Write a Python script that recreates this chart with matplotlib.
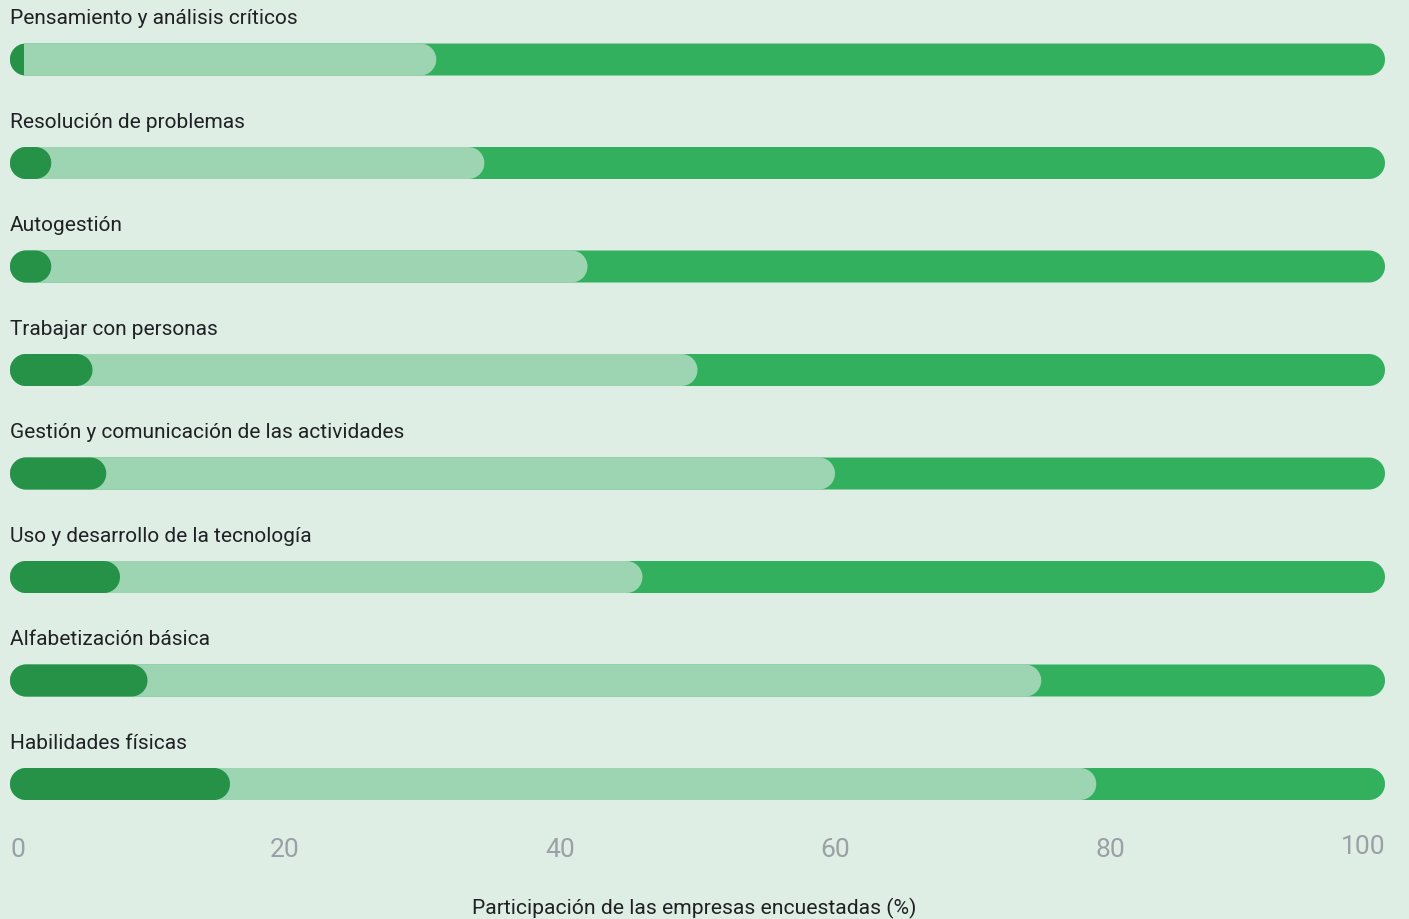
import numpy as np
import matplotlib
matplotlib.use("Agg")
import matplotlib.pyplot as plt
from matplotlib.patches import Polygon, Rectangle

# data: share of surveyed companies (%), three groups per skill
skills = ["Pensamiento y análisis críticos",
          "Resolución de problemas",
          "Autogestión",
          "Trabajar con personas",
          "Gestión y comunicación de las actividades",
          "Uso y desarrollo de la tecnología",
          "Alfabetización básica",
          "Habilidades físicas"]
dark = [1, 3, 3, 6, 7, 8, 10, 16]
light = [30, 31.5, 39, 44, 53, 38, 65, 63]
rest = [100 - d - l for d, l in zip(dark, light)]
xticks = [0, 20, 40, 60, 80, 100]
xlabel = "Participación de las empresas encuestadas (%)"

BG = "#deeee4"
C_DARK = "#259248"
C_LIGHT = "#9dd4b1"
C_MID = "#32b05e"
TXT = "#202124"
GREY = "#9aa0a6"

plt.rcParams['font.family'] = ['Roboto', 'DejaVu Sans']

W, H = 1409, 920
fig = plt.figure(figsize=(W / 100, H / 100), dpi=100, facecolor=BG)
x0, x1 = 10, 1385
ax = fig.add_axes([x0 / W, 0, (x1 - x0) / W, 1])
ax.set_facecolor(BG)
rowpx = 103.5
top = 60.5
ax.set_xlim(0, 100)
ax.set_ylim((H - top) / rowpx, -top / rowpx)

px_x = 100 / (x1 - x0)      # data x per pixel
px_y = 1 / rowpx            # data y per pixel
ry = 16 * px_y              # half bar height
rx = 16 * px_x              # cap radius in x units


def pill(x_end, y, color, z):
    w = max(x_end, 2 * rx)
    a = np.linspace(np.pi / 2, 3 * np.pi / 2, 40)
    left = np.column_stack([rx + rx * np.cos(a), y - ry * np.sin(a)])
    a2 = np.linspace(-np.pi / 2, np.pi / 2, 40)
    right = np.column_stack([w - rx + rx * np.cos(a2), y - ry * np.sin(a2)])
    p = Polygon(np.vstack([left, right]), closed=True, fc=color, ec="none",
                zorder=z, antialiased=True)
    ax.add_patch(p)
    if x_end < 2 * rx:
        r = Rectangle((0, y - ry), x_end, 2 * ry, transform=ax.transData)
        p.set_clip_path(r)
    return p


for i, name in enumerate(skills):
    total = dark[i] + light[i] + rest[i]
    pill(total, i, C_MID, 1)
    pill(dark[i] + light[i], i, C_LIGHT, 2)
    pill(dark[i], i, C_DARK, 3)
    ax.text(0, i - 36 * px_y, name, fontsize=15, color=TXT,
            ha="left", va="baseline")

ax.set_xticks(xticks)
ax.tick_params(axis="x", length=0, bottom=False, labelbottom=False)
ax.set_yticks([])
for s in ax.spines.values():
    s.set_visible(False)

# tick labels under the bars
for t in xticks:
    ha = "left" if t == 0 else ("right" if t == 100 else "center")
    dy = -3 * px_y if t == 100 else 0
    ax.text(t, 857 * px_y - top / rowpx + dy, str(t), fontsize=19, color=GREY,
            ha=ha, va="baseline")

fig.text(694 / W, 1 - 914 / H, xlabel, fontsize=15.2, color=TXT,
         ha="center", va="baseline")

fig.savefig("out.png", dpi=100, facecolor=BG)
